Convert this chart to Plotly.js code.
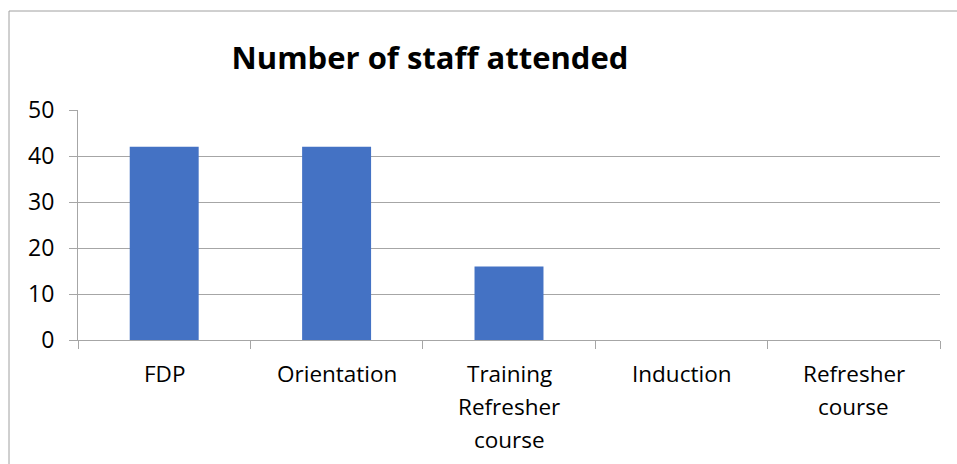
<!DOCTYPE html>
<html>
<head>
<meta charset="utf-8">
<script src="https://cdn.plot.ly/plotly-3.0.1.min.js"></script>
<style>
  html, body { margin: 0; padding: 0; background: #ffffff; }
  #chart { width: 957px; height: 464px; }
</style>
</head>
<body>
<div id="chart"></div>
<script>
const categories = ["FDP", "Orientation", "Training\nRefresher\ncourse", "Induction", "Refresher\ncourse"];
const staffAttended = [42, 42, 16, 0, 0];
const yTickValues = [0, 10, 20, 30, 40, 50];
const chartTitle = "Number of staff attended";

const FONT = "Open Sans, Noto Sans, Liberation Sans, sans-serif";
const GRID = "#a6a6a6";

const catKeys = categories.map(c => c.replace(/\n/g, " "));

const annotations = [];
categories.forEach((c, i) => {
  c.split("\n").forEach((line, j) => {
    annotations.push({
      x: catKeys[i], xref: "x",
      y: 0, yref: "paper",
      yanchor: "middle", xanchor: "center",
      yshift: -33 - 33 * j,
      text: line, showarrow: false,
      font: { family: FONT, size: 22.5, color: "#000000" }
    });
  });
});

const trace = {
  type: "bar",
  x: catKeys,
  y: staffAttended,
  marker: { color: "#4472C4" },
  hoverinfo: "x+y"
};

const layout = {
  width: 957, height: 464,
  margin: { l: 78, r: 17, t: 110, b: 124 },
  paper_bgcolor: "#ffffff",
  plot_bgcolor: "#ffffff",
  bargap: 0.6,
  showlegend: false,
  title: {
    text: "<b>" + chartTitle + "</b>",
    font: { family: FONT, size: 31, color: "#000000" },
    x: 430 / 957, xref: "container", xanchor: "center",
    y: 1 - 58 / 464, yref: "container", yanchor: "middle"
  },
  xaxis: {
    type: "category",
    showticklabels: false,
    showgrid: false,
    showline: true, linecolor: GRID, linewidth: 1,
    ticks: "outside", tickson: "boundaries", ticklen: 8, tickcolor: GRID,
    zeroline: false,
    fixedrange: true
  },
  yaxis: {
    range: [0, 50],
    tickvals: yTickValues,
    ticktext: yTickValues.map(String),
    showgrid: true, gridcolor: GRID, gridwidth: 1,
    showline: true, linecolor: GRID, linewidth: 1,
    ticks: "outside", ticklen: 8, tickcolor: GRID,
    ticklabelstandoff: 10,
    zeroline: false,
    tickfont: { family: FONT, size: 23, color: "#000000" },
    fixedrange: true
  },
  annotations: annotations,
  shapes: [{
    type: "rect", xref: "paper", yref: "paper",
    x0: (9 - 78) / 862, x1: 1.2,
    y0: -1, y1: 1 + (110 - 11) / 230,
    line: { color: "#a0a0a0", width: 1 },
    fillcolor: "rgba(0,0,0,0)",
    layer: "below"
  }]
};

Plotly.newPlot("chart", [trace], layout, { displayModeBar: false, staticPlot: true });
</script>
</body>
</html>
